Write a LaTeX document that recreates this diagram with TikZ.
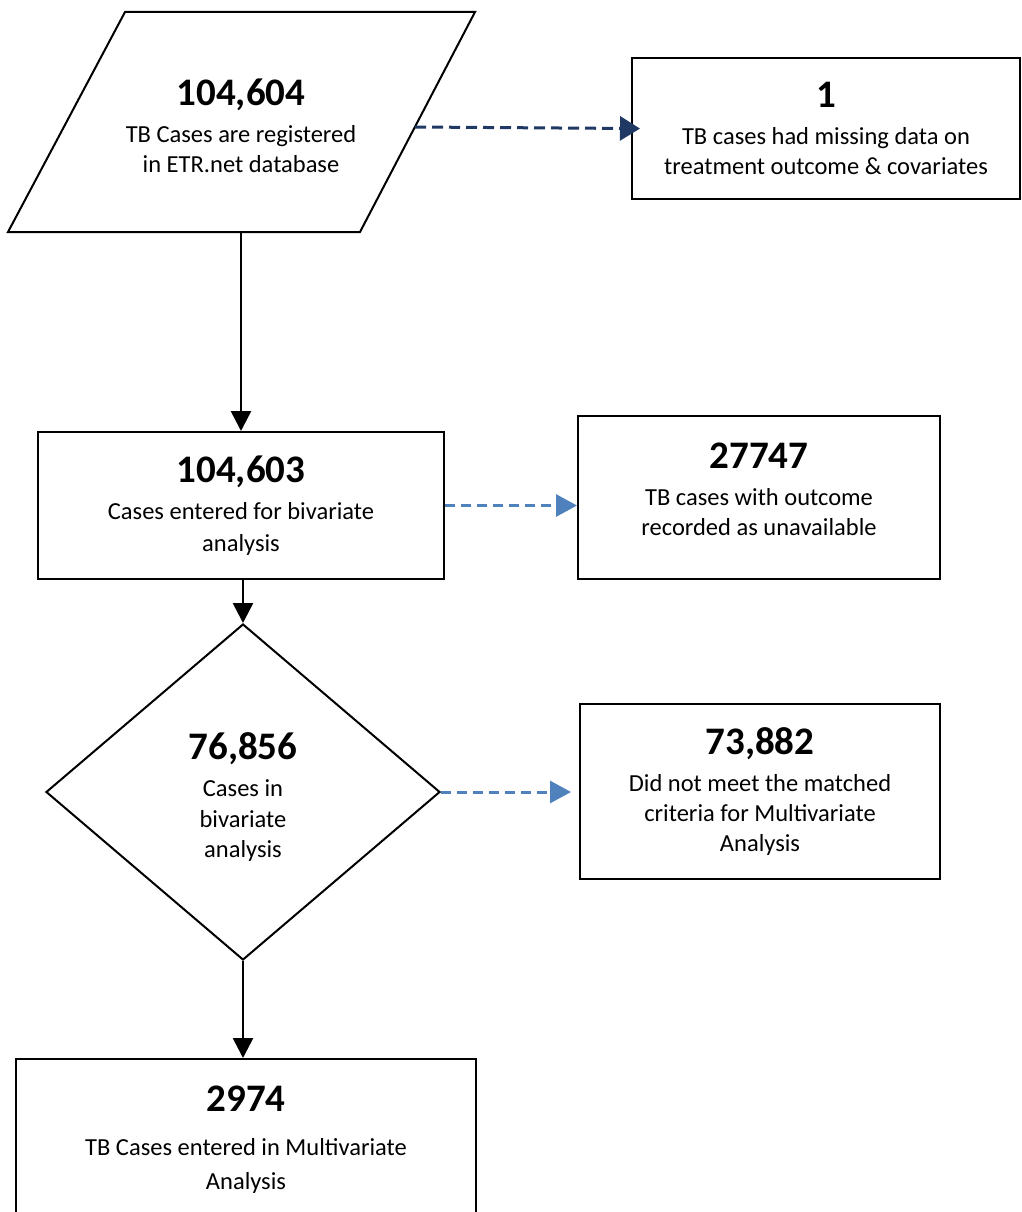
\documentclass[tikz,border=0pt]{standalone}
\usepackage{fontspec}
\setmainfont{Carlito}
\usetikzlibrary{shapes.geometric,arrows.meta}
\definecolor{navy}{RGB}{31,56,100}
\definecolor{lblue}{RGB}{79,129,189}
\newcommand\bignum[1]{{\fontsize{39}{39}\selectfont\bfseries #1}\\[7pt]}
\begin{document}
\begin{tikzpicture}[x=1pt,y=-1pt,
  box/.style={draw=black,line width=2pt,rectangle,inner sep=0pt,align=center,
    font=\fontsize{24.5}{30}\selectfont},
  txt/.style={align=center,inner sep=0pt,font=\fontsize{24.5}{30}\selectfont},
  solidarrow/.style={draw=black,line width=2.6pt,-{Triangle[length=20pt,width=20pt]}},
  navyarrow/.style={draw=navy,line width=3pt,dash pattern=on 11pt off 6pt,
    -{Triangle[length=20pt,width=24pt]}},
  bluearrow/.style={draw=lblue,line width=3pt,dash pattern=on 10pt off 6pt,
    -{Triangle[length=21pt,width=22pt]}}]
\useasboundingbox (0,0) rectangle (1021,1212);
% parallelogram
\coordinate (ptl) at (125,12);
\coordinate (ptr) at (475,12);
\coordinate (pbr) at (360,232);
\coordinate (pbl) at (8,232);
\draw[line width=2pt,line join=miter] (ptl) -- (ptr) -- (pbr) -- (pbl) -- cycle;
\node[txt] (p) at (241,126) {\bignum{104,604}TB Cases are registered\\in ETR.net database};
\coordinate (pright) at (415,127);
\coordinate (pbottom) at (241,232);
% boxes
\node[box,minimum width=388pt,minimum height=141pt] (b1) at (826,128.5)
  {\bignum{1}TB cases had missing data on\\treatment outcome \& covariates};
\node[box,minimum width=406pt,minimum height=147pt] (b2) at (241,505.5)
  {\bignum{104,603}Cases entered for bivariate\\[2pt]analysis};
\node[box,minimum width=362pt,minimum height=163pt] (b3) at (759,497.5) {};
\node[txt] (t3) at (759,489) {\bignum{27747}TB cases with outcome\\recorded as unavailable};
\node[box,minimum width=360pt,minimum height=175pt] (b4) at (760,791.5)
  {\bignum{73,882}Did not meet the matched\\criteria for Multivariate\\Analysis};
\node[draw=black,line width=2pt,diamond,minimum width=394pt,minimum height=336pt,
  inner sep=0pt] (d) at (243,792) {};
\node[txt] (td) at (243,797) {\bignum{76,856}Cases in\\bivariate\\analysis};
\node[box,minimum width=460pt,minimum height=162pt] (b5) at (246,1140) {};
\node[txt] (t5) at (246,1140)
  {{\fontsize{39}{39}\selectfont\bfseries 2974}\\[14pt]TB Cases entered in Multivariate\\[4pt]Analysis};
% connectors
\draw[navyarrow,shorten >=-9pt] (pright) -- (b1.west);
\draw[solidarrow] (pbottom) -- (pbottom |- b2.north);
\draw[bluearrow] (b2.east) -- (b3.west |- b2.east);
\draw[solidarrow] (d.north |- b2.south) -- (d.north);
\draw[bluearrow,shorten >=8pt] (d.east) -- (b4.west |- d.east);
\draw[solidarrow] (d.south) -- (d.south |- b5.north);
\end{tikzpicture}
\end{document}
